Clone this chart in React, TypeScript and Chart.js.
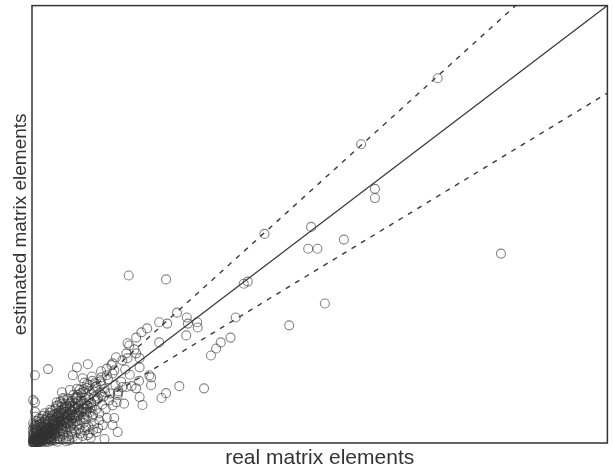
import { useEffect, useRef } from 'react';
import { Chart, registerables } from 'chart.js';

Chart.register(...registerables);

const xTitle = 'real matrix elements';
const yTitle = 'estimated matrix elements';
const axisMin = 0;
const axisMax = 100;
// reference lines through the origin: y = slope * x
const solidSlope = 1;
const dashedSlopes = [1.19, 0.8];

// [real, estimated]
const sparsePoints: [number, number][] = [
  [70.5, 83.4], [57.2, 68.3], [59.6, 58.1], [59.6, 56.0], [48.5, 49.4], [40.4, 47.8],
  [54.2, 46.5], [48.0, 44.4], [49.6, 44.4], [81.5, 43.3], [36.8, 36.4], [37.5, 36.9],
  [50.9, 31.9], [35.4, 28.7], [44.7, 26.9], [16.8, 38.3], [23.3, 37.4], [29.9, 12.5],
  [25.6, 13.0],
];

const midPoints: [number, number][] = [
  [25.2, 29.8], [26.9, 28.7], [28.8, 26.4], [27.1, 27.3], [22.1, 27.6], [23.5, 27.3],
  [20.0, 26.2], [19.0, 25.3], [18.1, 24.1], [16.6, 22.8], [22.1, 23.0], [26.8, 24.6],
  [28.7, 27.6], [34.5, 24.1], [32.8, 23.0], [32.0, 21.6], [31.1, 20.0], [14.0, 18.2],
  [14.3, 16.6], [18.1, 20.5], [18.7, 19.4], [16.6, 19.4], [20.4, 15.5], [20.7, 13.2],
  [18.7, 17.3], [13.0, 15.5], [15.7, 12.8], [18.1, 12.5], [14.9, 11.4], [18.7, 10.5],
  [19.2, 8.7], [22.5, 10.3], [23.3, 11.4], [20.7, 15.0],
];

const nearPoints: [number, number][] = [
  [2.8, 16.9], [0.5, 15.5], [7.8, 17.3], [9.7, 18.0], [7.1, 15.5], [8.8, 14.8],
  [10.9, 13.7], [12.1, 15.0], [13.8, 17.8], [14.0, 15.9], [15.7, 18.9], [16.9, 22.3],
  [16.4, 20.5], [17.8, 21.4], [16.4, 12.8], [14.9, 10.9], [14.7, 9.3], [0.5, 9.3],
  [0.5, 7.1], [5.2, 11.6], [6.6, 12.1], [4.3, 9.3], [5.4, 10.3], [7.8, 10.5],
  [9.2, 10.3], [10.4, 8.2], [11.7, 6.8], [13.0, 5.7], [12.3, 4.1], [14.9, 2.5],
  [11.2, 2.5], [9.7, 1.8], [14.0, 4.1], [7.1, 1.4], [6.0, 4.6], [2.2, 5.2],
  [0.2, 9.8], [12.6, 0.9], [14.3, 5.7],
];

const clusterPoints: [number, number][] = [
  [0.3, 0.2], [0.5, 0.8], [0.8, 0.4], [1.0, 1.2], [1.2, 0.6], [1.5, 1.9], [1.6, 1.0],
  [1.8, 0.3], [2.0, 2.4], [2.1, 1.5], [2.3, 0.8], [2.5, 3.1], [2.6, 2.0], [2.8, 1.2],
  [3.0, 3.5], [3.1, 2.6], [3.3, 0.5], [3.5, 4.0], [3.6, 2.9], [3.8, 1.8], [4.0, 4.6],
  [4.1, 3.3], [4.3, 2.4], [4.5, 5.2], [4.6, 3.8], [4.8, 0.9], [5.0, 5.8], [5.1, 4.3],
  [5.3, 2.9], [5.5, 6.5], [5.6, 4.9], [5.8, 3.6], [6.0, 7.2], [6.1, 5.5], [6.3, 1.6],
  [6.5, 7.8], [6.6, 6.0], [6.8, 4.2], [7.0, 8.5], [7.1, 6.4], [7.3, 3.0], [7.5, 9.1],
  [7.6, 6.9], [7.8, 5.0], [8.0, 9.6], [8.2, 7.5], [8.4, 2.2], [8.6, 10.4], [8.8, 8.0],
  [9.0, 5.8], [9.3, 11.2], [9.5, 8.6], [9.8, 3.8], [10.0, 11.9], [10.3, 9.2], [10.6, 6.6],
  [11.0, 12.8], [11.3, 9.9], [11.7, 5.2], [12.0, 13.6], [12.4, 10.6], [12.8, 7.8],
  [13.2, 14.6], [13.6, 11.3], [14.0, 8.6],
  [0.1, 3.0], [0.2, 4.5], [0.4, 2.0], [0.6, 6.0], [0.9, 3.4], [1.3, 4.8], [1.7, 5.6],
  [2.2, 6.8], [2.7, 4.2], [3.2, 7.6], [3.7, 6.1], [4.2, 8.4], [4.7, 7.0], [5.2, 9.0],
  [5.7, 8.0], [6.2, 10.1], [6.7, 9.3], [7.2, 11.0], [7.7, 10.2], [8.3, 12.2], [8.9, 11.6],
  [9.6, 13.5], [10.5, 14.2],
  [1.1, 0.1], [2.4, 0.2], [3.4, 1.4], [4.4, 1.1], [5.4, 1.9], [5.9, 0.4], [6.9, 2.6],
  [7.9, 1.0], [9.2, 2.9], [10.2, 1.2], [11.5, 3.4], [10.8, 4.4],
  [0.2, 0.6], [0.4, 1.4], [0.7, 0.2], [0.9, 1.8], [1.4, 1.4], [1.9, 2.0], [2.4, 2.7],
  [2.9, 2.3], [3.4, 3.0], [3.9, 3.7], [4.4, 4.1], [4.9, 4.8], [5.4, 5.3], [5.9, 5.9],
  [6.4, 6.7], [6.9, 7.1], [7.4, 7.8], [0.3, 1.0], [0.6, 0.5], [1.0, 2.6], [1.5, 0.7],
  [2.0, 3.5], [2.5, 1.6], [3.0, 1.0], [3.6, 5.0], [4.0, 2.0], [4.6, 6.0], [5.2, 3.4],
  [6.0, 4.6], [6.6, 8.4], [7.4, 5.6], [8.1, 6.2], [8.6, 8.9], [9.4, 7.0], [10.1, 8.0],
  [10.9, 10.6], [11.8, 11.5], [12.6, 12.4], [13.4, 9.8], [14.5, 13.2], [15.5, 14.0],
  [16.2, 16.8], [17.0, 15.6], [15.0, 11.8], [16.0, 9.0], [17.3, 13.0], [18.6, 14.2],
  [13.0, 17.0], [14.6, 19.6], [12.0, 16.4],
];

const corePoints: [number, number][] = [
  [0.1, 0.1], [0.2, 0.3], [0.3, 0.1], [0.4, 0.5], [0.5, 0.2], [0.6, 0.9], [0.7, 0.6],
  [0.8, 1.1], [0.9, 0.3], [1.0, 0.8], [1.1, 1.5], [1.2, 0.2], [1.3, 1.0], [1.4, 2.1],
  [1.5, 1.3], [1.6, 0.5], [1.7, 1.8], [1.8, 2.6], [1.9, 1.1], [2.0, 0.6], [2.1, 2.2],
  [2.2, 3.0], [2.3, 1.7], [2.4, 1.1], [2.5, 2.5], [2.6, 3.4], [2.7, 0.9], [2.8, 2.0],
  [2.9, 3.0], [3.0, 2.4], [3.1, 1.5], [3.2, 3.8], [3.3, 2.8], [3.4, 2.1], [3.5, 3.3],
  [3.6, 1.2], [3.7, 4.3], [3.8, 3.1], [3.9, 2.5], [4.0, 3.9], [0.15, 1.6], [0.25, 2.5],
  [0.35, 3.6], [0.45, 4.2], [0.55, 1.2], [0.7, 2.9], [0.85, 5.0], [1.0, 3.9], [1.2, 5.6],
  [1.4, 3.2], [1.6, 4.4], [1.9, 6.2], [2.3, 4.9], [2.7, 5.7], [3.1, 4.6], [3.5, 6.4],
  [3.9, 5.3], [4.3, 6.8], [4.7, 5.6], [5.1, 7.4],
  [0.2, 0.9], [0.4, 0.3], [0.6, 1.3], [0.8, 0.7], [1.0, 0.4], [1.2, 1.8], [1.4, 0.9],
  [1.6, 2.3], [1.8, 1.4], [2.0, 1.0], [2.2, 2.6], [2.4, 1.9], [2.6, 1.2], [2.8, 3.3],
  [3.0, 2.0], [3.2, 1.3], [3.4, 3.6], [3.6, 2.5], [3.8, 4.2], [4.0, 3.0], [4.2, 1.6],
  [4.4, 4.8], [4.6, 3.4], [4.8, 2.6], [5.0, 5.0], [5.2, 4.0], [5.4, 2.4], [5.6, 5.9],
  [5.8, 4.6], [6.0, 3.2], [6.2, 6.3], [6.4, 5.0], [6.6, 3.6], [6.8, 7.4], [7.0, 5.6],
  [7.2, 4.4], [7.4, 8.2], [7.6, 6.2], [7.8, 4.0], [8.0, 8.0], [8.2, 6.8], [8.4, 5.3],
  [8.6, 9.6], [8.8, 7.2], [9.0, 4.6], [9.2, 9.0], [9.4, 7.8], [9.6, 6.1], [9.8, 10.4],
  [10.0, 7.0],
  [0.3, 2.2], [0.5, 3.1], [0.7, 4.0], [0.9, 2.5], [1.1, 3.3], [1.3, 4.2], [1.5, 2.8],
  [1.7, 3.7], [1.9, 4.6], [2.1, 3.9], [2.3, 5.4], [2.5, 4.4], [2.7, 6.2], [2.9, 5.0],
  [3.1, 6.9], [3.3, 5.6], [3.5, 7.3], [3.7, 5.2], [3.9, 6.6], [4.1, 7.8], [4.3, 5.9],
  [4.5, 8.6], [4.7, 6.4], [4.9, 9.4], [5.1, 8.2], [5.3, 6.7], [5.5, 10.0], [5.7, 7.1],
  [5.9, 9.0], [6.1, 8.4],
  [0.4, 0.1], [0.9, 0.1], [1.4, 0.3], [1.9, 0.4], [2.4, 0.5], [2.9, 0.3], [3.4, 0.7],
  [3.9, 0.6], [4.4, 0.3], [4.9, 1.5], [5.4, 0.8], [6.0, 1.1], [6.5, 0.6], [7.0, 2.0],
  [7.6, 2.4], [8.2, 3.2], [8.8, 1.6], [9.4, 3.5], [10.0, 2.2], [10.6, 3.0],
];

const outerCorePoints: [number, number][] = [
  [4.5, 6.2], [5.0, 6.9], [5.5, 7.6], [6.0, 8.1], [6.5, 8.9], [7.0, 9.6], [7.5, 10.3],
  [8.0, 11.0], [8.5, 11.4], [9.0, 12.3], [9.5, 12.6], [10.0, 13.2], [10.6, 12.1],
  [11.2, 13.0], [11.9, 14.1], [6.3, 9.7], [7.8, 12.4], [9.1, 13.8], [10.4, 15.2],
  [5.0, 3.1], [5.6, 3.9], [6.2, 4.4], [6.8, 5.1], [7.3, 5.9], [7.9, 6.5], [8.5, 7.1],
  [9.1, 7.9], [9.7, 8.4], [10.3, 9.0], [10.9, 9.6], [11.5, 10.2], [12.1, 11.0],
  [12.7, 11.6], [8.1, 4.4], [9.3, 5.4], [10.5, 6.0], [11.1, 7.6], [12.2, 8.8],
];

const FONT = "'Liberation Sans', Arial, sans-serif";

const boxPlugin = {
  id: 'plotBox',
  afterDraw(chart: any) {
    const { ctx, chartArea } = chart;
    ctx.save();
    ctx.strokeStyle = '#333';
    ctx.lineWidth = 1.5;
    ctx.strokeRect(chartArea.left, chartArea.top, chartArea.right - chartArea.left, chartArea.bottom - chartArea.top);
    ctx.restore();
  },
};

export default function App() {
  const ref = useRef<HTMLCanvasElement | null>(null);

  useEffect(() => {
    if (!ref.current) return;
    const toXY = (arr: [number, number][]) => arr.map(([x, y]) => ({ x, y }));
    const allPoints = [
      ...corePoints, ...outerCorePoints, ...clusterPoints, ...nearPoints, ...midPoints, ...sparsePoints,
    ];
    const lineTo = (slope: number) => [
      { x: axisMin, y: axisMin * slope },
      { x: axisMax, y: axisMax * slope },
    ];
    const chart = new Chart(ref.current, {
      type: 'scatter',
      data: {
        datasets: [
          {
            label: 'elements',
            data: toXY(allPoints),
            pointStyle: 'circle',
            pointRadius: 4.5,
            pointBorderWidth: 1.1,
            borderColor: 'rgba(50,50,50,0.6)',
            backgroundColor: 'rgba(0,0,0,0)',
            clip: 4,
          } as any,
          {
            label: 'identity',
            type: 'line',
            data: lineTo(solidSlope),
            borderColor: '#3a3a3a',
            borderWidth: 1.3,
            pointRadius: 0,
            fill: false,
          } as any,
          ...dashedSlopes.map((s) => ({
            label: 'band ' + s,
            type: 'line',
            data: lineTo(s),
            borderColor: '#3a3a3a',
            borderWidth: 1.4,
            borderDash: [5, 6],
            pointRadius: 0,
            fill: false,
          } as any)),
        ],
      },
      options: {
        responsive: false,
        animation: false,
        layout: { padding: { top: 4, right: 2, left: 0, bottom: 0 } },
        plugins: { legend: { display: false }, tooltip: { enabled: false } },
        scales: {
          x: {
            type: 'linear',
            min: axisMin,
            max: axisMax,
            ticks: { display: false },
            grid: { display: false },
            border: { display: false },
            title: {
              display: true,
              text: xTitle,
              color: '#333',
              font: { family: FONT, size: 21, lineHeight: 0.8 },
              padding: { top: 0, bottom: 0 },
            },
            afterFit: (scale: any) => { scale.height = 24; },
          },
          y: {
            type: 'linear',
            min: axisMin,
            max: axisMax,
            ticks: { display: false },
            grid: { display: false },
            border: { display: false },
            title: {
              display: true,
              text: yTitle,
              color: '#333',
              font: { family: FONT, size: 19, lineHeight: 1.2 },
              padding: { top: 9, bottom: 0 },
            },
            afterFit: (scale: any) => { scale.width = 32; },
          },
        },
      },
      plugins: [boxPlugin],
    });
    return () => chart.destroy();
  }, []);

  return (
    <div style={{ position: 'fixed', left: 0, top: 0, width: 613, height: 467, background: '#fff' }}>
      <canvas ref={ref} width={613} height={467} />
    </div>
  );
}
